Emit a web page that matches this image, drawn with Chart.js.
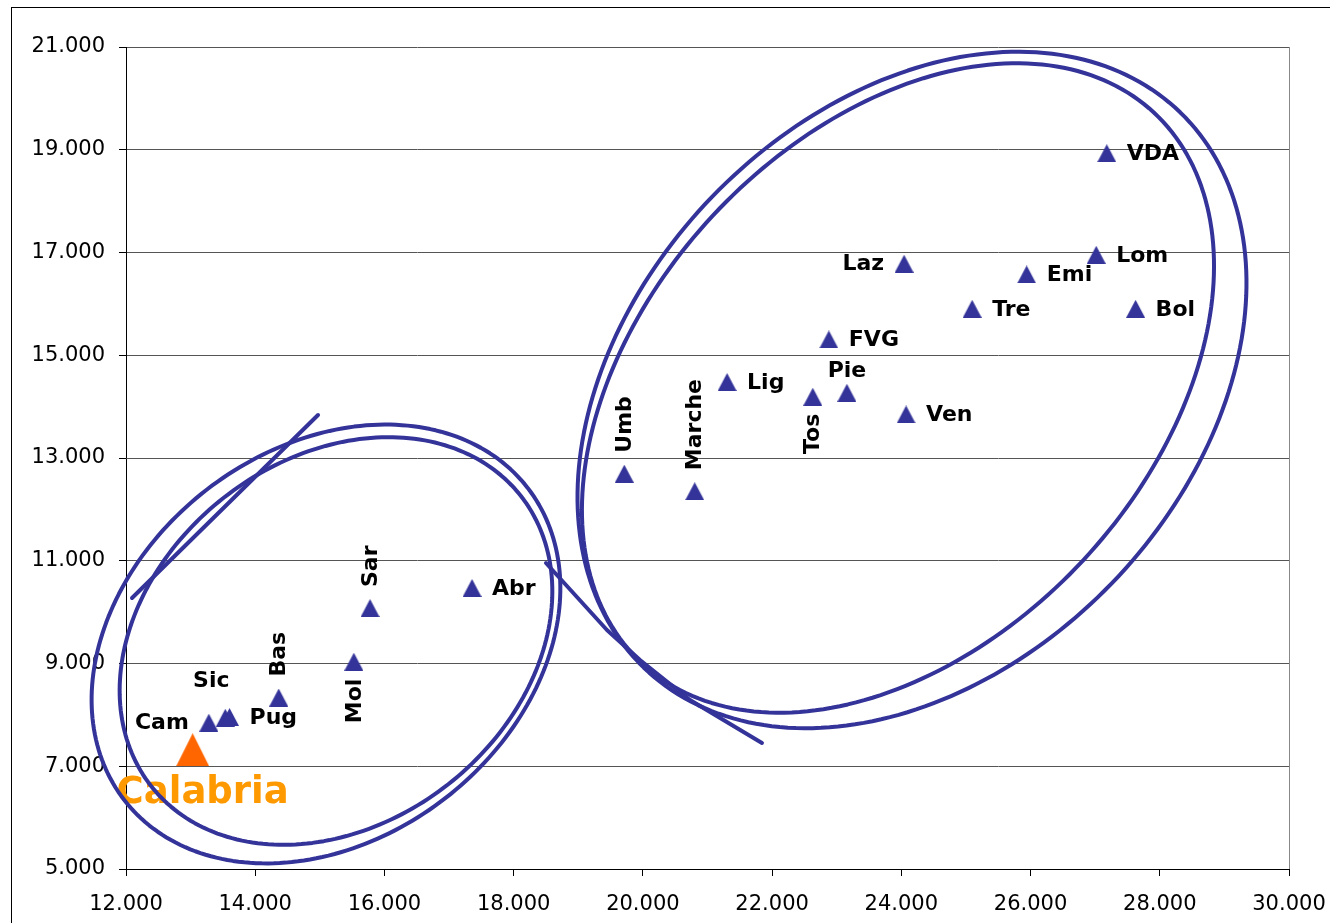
<!DOCTYPE html>
<html lang="it">
<head>
  <meta charset="UTF-8">
  <title>Regioni italiane</title>
  <script src="https://cdn.jsdelivr.net/npm/chart.js"></script>
  <style>
    html, body { margin: 0; padding: 0; background: #fff; overflow: hidden; }
    #wrap { position: relative; width: 1330px; height: 923px; }
    #grafico { position: absolute; left: 0; top: 0; }
    #cornice {
      position: absolute; left: 11px; top: 7px;
      width: 1340px; height: 940px;
      border: 1px solid #000; pointer-events: none;
    }
  </style>
</head>
<body>
  <div id="wrap">
    <canvas id="grafico" width="1330" height="923"></canvas>
    <div id="cornice"></div>
  </div>

  <script>
    // dati
    const regioni = ['VDA', 'Lom', 'Laz', 'Emi', 'Tre', 'Bol', 'FVG', 'Lig', 'Tos', 'Pie',
                     'Ven', 'Umb', 'Marche', 'Abr', 'Sar', 'Mol', 'Bas', 'Cam', 'Sic', 'Pug'];
    const valoriX = [27180, 27016, 24043, 25940, 25096, 27626, 22878, 21303, 22629, 23158,
                     24074, 19712, 20802, 17356, 15777, 15526, 14364, 13282, 13537, 13602];
    const valoriY = [18933, 16955, 16782, 16572, 15904, 15904, 15307, 14479, 14193, 14269,
                     13847, 12695, 12354, 10470, 10080, 9035, 8338, 7848, 7943, 7958];
    // r = destra, l = sinistra, a = sopra, up/dn = verticale sopra/sotto
    const posEtichetta = ['r', 'r', 'l', 'r', 'r', 'r', 'r', 'r', 'dn', 'a',
                          'r', 'up', 'up', 'r', 'up', 'dn', 'up', 'l', 'al', 'r'];

    const calabriaX = [13032];
    const calabriaY = [7322];

    const asseX = { min: 12000, max: 30000, passo: 2000 };
    const asseY = { min: 5000, max: 21000, passo: 2000 };

    // ellissi disegnate a mano: centro, semidiametro U, semidiametro V (unità dati)
    const ellisseNordEst = [24165, 14324, 4150, 5405, -3095, 3759];
    const ellisseNordInt = [23948, 14363, 3964, 5357, -2866, 3354];
    const ellisseSudEst = [15095, 9380, 3122, 3038, -1847, 3002];
    const ellisseSudInt = [15250, 9438, 2862, 2822, -1738, 2788];
    const codaNord = [[18500, 10956], [19444, 9652], [19955, 9068], [20729, 8290], [21843, 7453]];
    const codaSud = [[12093, 10275], [14972, 13837]];

    const BLU = '#333399';

    function triangolo(w, h, colore) {
      const c = document.createElement('canvas');
      c.width = w; c.height = h;
      const g = c.getContext('2d');
      g.fillStyle = colore;
      g.beginPath();
      g.moveTo(w / 2, 0);
      g.lineTo(w, h);
      g.lineTo(0, h);
      g.closePath();
      g.fill();
      return c;
    }

    function formato(v) {
      return String(v).replace(/\B(?=(\d{3})+(?!\d))/g, '.');
    }

    const POS = {
      r:  { dx: 20,  dy: 1,   align: 'left',   rot: false },
      l:  { dx: -20, dy: 1,   align: 'right',  rot: false },
      a:  { dx: 0,   dy: -22, align: 'center', rot: false },
      al: { dx: -14, dy: -37, align: 'center', rot: false },
      up: { dx: 1,   dy: -21, align: 'left',   rot: true },
      dn: { dx: 1,   dy: 17,  align: 'right',  rot: true }
    };

    const disegni = {
      id: 'disegni',
      afterDatasetsDraw(chart) {
        const { ctx, scales: { x, y } } = chart;
        ctx.save();

        // etichette
        ctx.fillStyle = '#000';
        ctx.font = 'bold 22px "DejaVu Sans"';
        ctx.textBaseline = 'middle';
        regioni.forEach((nome, i) => {
          const p = POS[posEtichetta[i]];
          ctx.save();
          ctx.translate(x.getPixelForValue(valoriX[i]) + p.dx, y.getPixelForValue(valoriY[i]) + p.dy);
          if (p.rot) ctx.rotate(-Math.PI / 2);
          ctx.textAlign = p.align;
          ctx.fillText(nome, 0, 0);
          ctx.restore();
        });

        ctx.fillStyle = '#FF9900';
        ctx.font = 'bold 37px "DejaVu Sans"';
        ctx.textAlign = 'center';
        ctx.fillText('Calabria', x.getPixelForValue(calabriaX[0]) + 10, y.getPixelForValue(calabriaY[0]) + 44);

        // ellissi
        ctx.strokeStyle = BLU;
        ctx.lineWidth = 4;
        ctx.lineJoin = 'round';
        ctx.lineCap = 'round';
        [ellisseNordEst, ellisseNordInt, ellisseSudEst, ellisseSudInt].forEach(e => {
          ctx.beginPath();
          for (let k = 0; k <= 240; k++) {
            const t = k / 240 * Math.PI * 2;
            const vx = e[0] + e[2] * Math.cos(t) + e[4] * Math.sin(t);
            const vy = e[1] + e[3] * Math.cos(t) + e[5] * Math.sin(t);
            const px = x.getPixelForValue(vx), py = y.getPixelForValue(vy);
            if (k === 0) ctx.moveTo(px, py); else ctx.lineTo(px, py);
          }
          ctx.closePath();
          ctx.stroke();
        });

        [codaNord, codaSud].forEach(linea => {
          ctx.beginPath();
          linea.forEach((pt, k) => {
            const px = x.getPixelForValue(pt[0]), py = y.getPixelForValue(pt[1]);
            if (k === 0) ctx.moveTo(px, py); else ctx.lineTo(px, py);
          });
          ctx.stroke();
        });

        ctx.restore();
      }
    };

    const ctx = document.getElementById('grafico').getContext('2d');
    new Chart(ctx, {
      type: 'scatter',
      data: {
        datasets: [{
          label: 'Regioni',
          data: valoriX.map((v, i) => ({ x: v, y: valoriY[i] })),
          pointStyle: triangolo(19, 18, BLU),
          pointRadius: 10,
          backgroundColor: BLU,
          borderColor: BLU
        }, {
          label: 'Calabria',
          data: calabriaX.map((v, i) => ({ x: v, y: calabriaY[i] })),
          pointStyle: triangolo(33, 33, '#FF6600'),
          pointRadius: 17,
          backgroundColor: '#FF6600',
          borderColor: '#FF6600'
        }]
      },
      options: {
        responsive: false,
        animation: false,
        devicePixelRatio: 1,
        layout: { padding: { top: 47, right: 41, bottom: 0, left: 0 } },
        plugins: {
          legend: { display: false },
          tooltip: { enabled: false }
        },
        scales: {
          x: {
            type: 'linear',
            min: asseX.min, max: asseX.max,
            ticks: {
              stepSize: asseX.passo, color: '#000', padding: 16,
              font: { family: 'DejaVu Sans', size: 21 },
              maxRotation: 0, autoSkip: false, callback: formato
            },
            grid: {
              color: c => (c.tick && c.tick.value === asseX.max) ? '#888' : 'rgba(0,0,0,0)',
              tickColor: '#000', tickLength: 7
            },
            border: { color: '#000', width: 1 },
            afterFit: s => { s.height = 54; s.paddingRight = 0; s.paddingLeft = 0; }
          },
          y: {
            type: 'linear',
            min: asseY.min, max: asseY.max,
            ticks: {
              stepSize: asseY.passo, color: '#000', padding: 14,
              font: { family: 'DejaVu Sans', size: 21 },
              callback: formato
            },
            grid: { color: '#555', tickColor: '#000', tickLength: 7 },
            border: { color: '#000', width: 1 },
            afterFit: s => { s.width = 126; }
          }
        }
      },
      plugins: [disegni]
    });
  </script>
</body>
</html>
